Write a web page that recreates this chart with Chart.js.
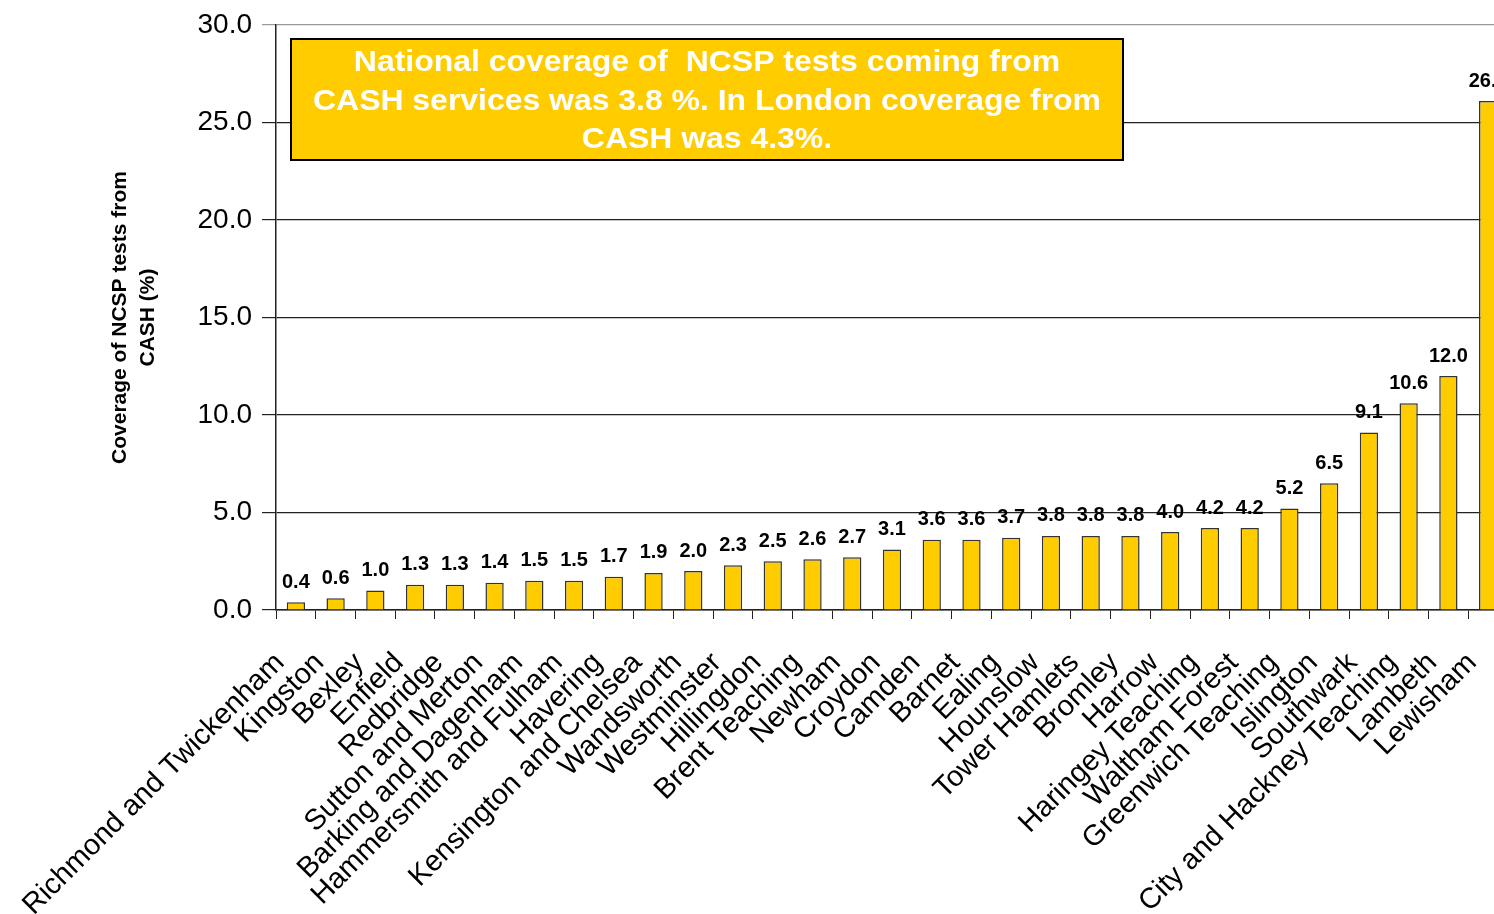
<!DOCTYPE html>
<html>
<head>
<meta charset="utf-8">
<title>NCSP coverage from CASH</title>
<script src="https://cdn.jsdelivr.net/npm/chart.js@4"></script>
<style>
  html, body { margin: 0; padding: 0; background: #fff; overflow: hidden; }
  #wrap { width: 1494px; height: 914px; overflow: hidden; position: relative; }
  #chart { position: absolute; left: 0; top: 0; }
</style>
</head>
<body>
<div id="wrap"><canvas id="chart" width="1508" height="914"></canvas></div>
<script>
/* ---- data ---- */
var pcts = [
  'Richmond and Twickenham', 'Kingston', 'Bexley', 'Enfield', 'Redbridge',
  'Sutton and Merton', 'Barking and Dagenham', 'Hammersmith and Fulham', 'Havering',
  'Kensington and Chelsea', 'Wandsworth', 'Westminster', 'Hillingdon', 'Brent Teaching',
  'Newham', 'Croydon', 'Camden', 'Barnet', 'Ealing', 'Hounslow', 'Tower Hamlets',
  'Bromley', 'Harrow', 'Haringey Teaching', 'Waltham Forest', 'Greenwich Teaching',
  'Islington', 'Southwark', 'City and Hackney Teaching', 'Lambeth', 'Lewisham'
];
var coverage = [
  0.4, 0.6, 1.0, 1.3, 1.3, 1.4, 1.5, 1.5, 1.7, 1.9, 2.0, 2.3, 2.5, 2.6, 2.7, 3.1,
  3.6, 3.6, 3.7, 3.8, 3.8, 3.8, 4.0, 4.2, 4.2, 5.2, 6.5, 9.1, 10.6, 12.0, 26.1
];
var yTicks = [0, 5, 10, 15, 20, 25, 30];
var noteLines = [
  'National coverage of  NCSP tests coming from',
  'CASH services was 3.8 %. In London coverage from',
  'CASH was 4.3%.'
];

var FONT = "'Liberation Sans', Arial, sans-serif";

/* value labels above the bars */
var barLabels = {
  id: 'barLabels',
  afterDatasetsDraw: function(chart) {
    var ctx = chart.ctx;
    var meta = chart.getDatasetMeta(0);
    ctx.save();
    ctx.font = 'bold 20px ' + FONT;
    ctx.fillStyle = '#000';
    ctx.textAlign = 'center';
    ctx.textBaseline = 'bottom';
    meta.data.forEach(function(bar, i) {
      ctx.fillText(coverage[i].toFixed(1), bar.x, bar.y - 10);
    });
    ctx.restore();
  }
};

/* yellow note box */
var noteBox = {
  id: 'noteBox',
  afterDraw: function(chart) {
    var ctx = chart.ctx;
    var a = chart.chartArea;
    var x = a.left + 15, y = a.top + 14, w = 832, h = 121;
    ctx.save();
    ctx.fillStyle = '#FFCC00';
    ctx.fillRect(x, y, w, h);
    ctx.lineWidth = 2;
    ctx.strokeStyle = '#000';
    ctx.strokeRect(x, y, w, h);
    ctx.font = 'bold 30px ' + FONT;
    ctx.fillStyle = '#fff';
    ctx.textAlign = 'center';
    ctx.textBaseline = 'middle';
    var sx = 788 / ctx.measureText(noteLines[1]).width;
    noteLines.forEach(function(line, i) {
      ctx.save();
      ctx.translate(x + w / 2, y + 24 + i * 38.5);
      ctx.scale(sx, 1);
      ctx.fillText(line, 0, 0);
      ctx.restore();
    });
    ctx.restore();
  }
};

new Chart(document.getElementById('chart'), {
  type: 'bar',
  data: {
    labels: pcts,
    datasets: [{
      data: coverage,
      backgroundColor: '#FFCC00',
      borderColor: '#333',
      borderWidth: 1.5,
      categoryPercentage: 1,
      barPercentage: 0.46
    }]
  },
  options: {
    responsive: false,
    animation: false,
    layout: { padding: { top: 25, left: 0, right: 0, bottom: 0 }, autoPadding: false },
    plugins: {
      legend: { display: false },
      tooltip: { enabled: false }
    },
    scales: {
      x: {
        grid: { offset: true, drawOnChartArea: false, tickLength: 9, color: '#222' },
        border: { color: '#222', width: 1.5 },
        ticks: {
          autoSkip: false,
          minRotation: 45,
          maxRotation: 45,
          padding: 27,
          labelOffset: -16,
          color: '#000',
          font: { size: 29, family: FONT }
        },
        afterFit: function(s) {
          s.height = 304;
          s.paddingLeft = 0;
          s.paddingRight = 0;
        }
      },
      y: {
        min: 0,
        max: 30,
        afterBuildTicks: function(s) {
          s.ticks = yTicks.map(function(v) { return { value: v }; });
        },
        grid: {
          tickLength: 14,
          lineWidth: 1.2,
          color: function(c) { return c.tick && c.tick.value === 30 ? '#999' : '#222'; }
        },
        border: { color: '#222', width: 1.5 },
        ticks: {
          padding: 10,
          color: '#000',
          font: { size: 28, family: FONT },
          callback: function(v) { return Number(v).toFixed(1); }
        },
        title: {
          display: true,
          text: ['Coverage of NCSP tests from', 'CASH (%)'],
          color: '#000',
          font: { size: 21, weight: 'bold', family: FONT, lineHeight: 1.35 },
          padding: { top: 106, bottom: 0 }
        },
        afterFit: function(s) {
          s.width = 276;
          s.paddingTop = 0;
          s.paddingBottom = 0;
        }
      }
    }
  },
  plugins: [barLabels, noteBox]
});
</script>
</body>
</html>
